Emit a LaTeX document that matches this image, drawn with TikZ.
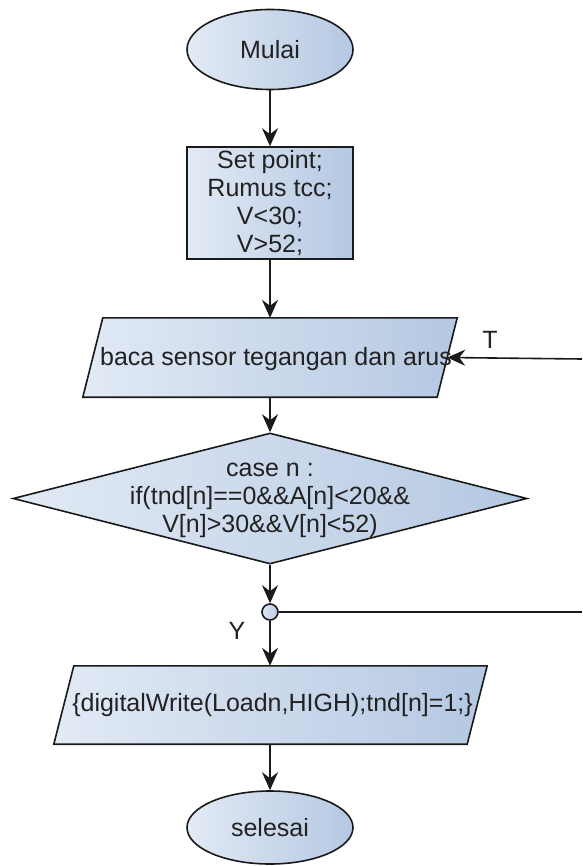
\documentclass[tikz,border=0pt]{standalone}
\usepackage{fontspec}
\setmainfont{Liberation Sans}
\usetikzlibrary{shapes.geometric,arrows.meta}
\definecolor{fillL}{HTML}{E2EAF5}
\definecolor{fillR}{HTML}{B5C8E2}
\definecolor{edge}{HTML}{1A1A1A}
\definecolor{txt}{HTML}{222222}
\tikzset{
  base/.style={draw=edge, line width=1.6pt, left color=fillL, right color=fillR, inner sep=0pt},
  term/.style={base, ellipse, minimum width=166pt, minimum height=80pt},
  procbox/.style={base, rectangle, minimum width=166pt, minimum height=112pt, align=center},
  ioframe/.style={rectangle, inner sep=0pt, minimum width=354pt, minimum height=79pt},
  decide/.style={base, diamond, minimum width=514pt, minimum height=131pt},
  joint/.style={base, circle, minimum size=16pt},
  lbl/.style={text=txt, font=\fontsize{25}{28}\selectfont, align=center, inner sep=0pt},
  flow/.style={draw=edge, line width=1.6pt, -{Stealth[length=18pt,width=16pt,inset=6pt]}},
  plain/.style={draw=edge, line width=1.6pt}
}
\newcommand{\slantbox}[1]{%
  \path[base] ([xshift=-10pt]#1.south west) -- ([xshift=10pt]#1.north west)
     -- ([xshift=10pt]#1.north east) -- ([xshift=-10pt]#1.south east) -- cycle;}
\begin{document}
\begin{tikzpicture}[x=1pt,y=-1pt]
\useasboundingbox (0,0) rectangle (582,866);
\node[term, lbl] (mulai) at (270,49.5) {Mulai};
\node[procbox, lbl] (init) at (270,203) {Set point;\\Rumus tcc;\\V<30;\\V>52;};
\node[ioframe] (baca) at (270,357.5) {};
\slantbox{baca}
\node[lbl] (bacat) at (276,359) {baca sensor tegangan dan arus};
\node[decide] (case) at (270,498.5) {};
\node[lbl] (caset) at (270,500) {case n :\\if(tnd[n]==0\&\&A[n]<20\&\&\\V[n]>30\&\&V[n]<52)};
\node[joint] (jn) at (270,612) {};
\node[ioframe, minimum width=413pt, minimum height=78pt] (dw) at (270.5,705) {};
\slantbox{dw}
\node[lbl] (dwt) at (272.5,705) {\{digitalWrite(Loadn,HIGH);tnd[n]=1;\}};
\node[term, lbl, minimum height=73pt] (selesai) at (270,827.5) {selesai};
\coordinate (tin) at (582,359);
\coordinate (yout) at (582,612);
\node[lbl] (tlab) at (490,340) {T};
\node[lbl] (ylab) at (237,631) {Y};
\draw[flow] (mulai) -- (init);
\draw[flow] (init) -- (baca);
\draw[flow] (tin) -- (baca.east);
\draw[flow] (baca) -- (case);
\draw[flow] (case) -- (jn);
\draw[plain] (jn) -- (yout);
\draw[flow] (jn) -- (dw.north -| jn);
\draw[flow] (dw.south -| jn) -- (selesai);
\end{tikzpicture}
\end{document}
